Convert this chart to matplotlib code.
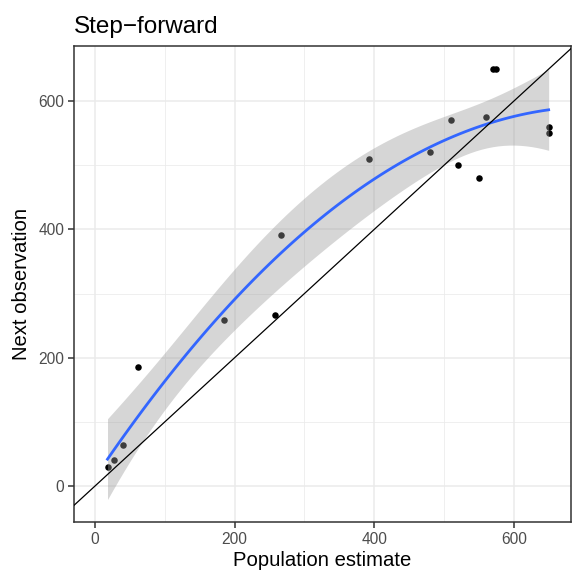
import numpy as np
from matplotlib import pyplot as plt

plt.rcParams['font.family'] = ['Liberation Sans', 'DejaVu Sans']

# data
pop_est = [18, 28, 40, 62, 185, 258, 267, 392, 480, 510, 520, 550, 560, 570, 575, 650, 650]
next_obs = [30, 40, 64, 185, 259, 267, 392, 510, 520, 570, 500, 480, 575, 650, 650, 560, 550]
xticks = [0, 200, 400, 600]
yticks = [0, 200, 400, 600]

x = np.array(pop_est, float)
y = np.array(next_obs, float)

# quadratic fit with 95% confidence band
X = np.column_stack([np.ones_like(x), x, x**2])
beta, res, rk, sv = np.linalg.lstsq(X, y, rcond=None)
n, p = X.shape
sigma2 = np.sum((y - X @ beta)**2) / (n - p)
cov = sigma2 * np.linalg.inv(X.T @ X)
xs = np.linspace(x.min(), x.max(), 80)
Xs = np.column_stack([np.ones_like(xs), xs, xs**2])
fit = Xs @ beta
se = np.sqrt(np.einsum('ij,jk,ik->i', Xs, cov, Xs))
tq = 2.145  # t(0.975, df=14)

fig = plt.figure(figsize=(5.75, 5.74), dpi=100)
ax = fig.add_axes([74/575, 1-522/574, (571-74)/575, (522-46)/574])

ax.scatter(x, y, s=22, color='black', zorder=2, linewidths=0)
ax.fill_between(xs, fit - tq*se, fit + tq*se, color='#999999', alpha=0.4,
                linewidth=0, zorder=3)
ax.plot(xs, fit, color='#3366FF', lw=2.0, zorder=4)
ax.axline((0, 0), slope=1, color='black', lw=0.9, zorder=5)

ax.set_xticks(xticks)
ax.set_yticks(yticks)
ax.set_xticks([100, 300, 500], minor=True)
ax.set_yticks([100, 300, 500], minor=True)
ax.set_xlim(-30, 682)
ax.set_ylim(-56, 686)
ax.grid(True, which='major', color='#EBEBEB', lw=1.1)
ax.grid(True, which='minor', color='#EBEBEB', lw=0.55)
ax.set_axisbelow(True)
for s in ax.spines.values():
    s.set_color('#333333')
    s.set_linewidth(1.1)
ax.tick_params(which='major', length=4, width=1.1, color='#333333',
               labelsize=11.2, labelcolor='#4D4D4D', pad=3)
ax.tick_params(which='minor', length=0)

ax.set_xlabel('Population estimate', fontsize=14.6, labelpad=3)
ax.set_ylabel('Next observation', fontsize=14.6, labelpad=5)
ax.set_title('Step\u2212forward', fontsize=17.5, loc='left', pad=9)

fig.savefig('out.png', dpi=100)
